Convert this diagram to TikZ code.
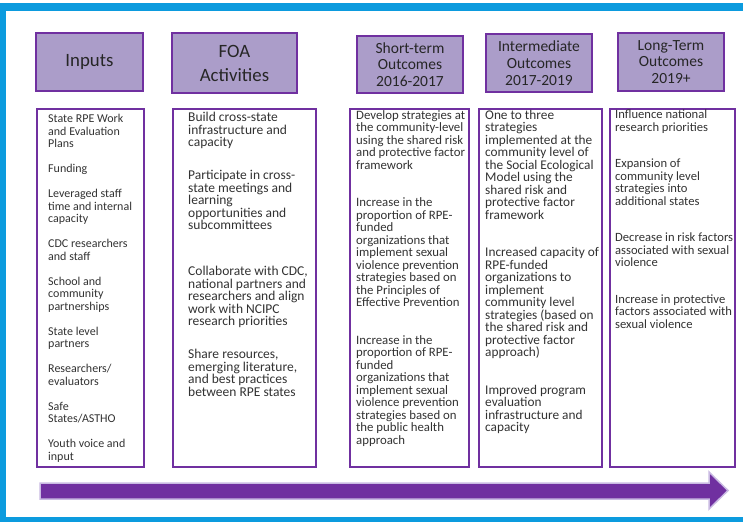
\documentclass[tikz,border=0pt]{standalone}
\usepackage{fontspec}
\setmainfont{Carlito}
\definecolor{frameblue}{RGB}{12,155,222}
\definecolor{rpepurple}{RGB}{112,48,160}
\definecolor{rpelilac}{RGB}{171,157,201}
\definecolor{arrowedge}{RGB}{201,186,226}
\definecolor{bodytext}{RGB}{50,50,50}

\begin{document}
\begin{tikzpicture}[x=1pt, y=1pt,
    head/.style={draw=rpepurple, line width=2.4pt, fill=rpelilac, minimum width=106pt, minimum height=58pt, align=center, text=black!85, inner sep=0pt},
    panel/.style={draw=rpepurple, line width=2pt, minimum height=358pt, anchor=north west, inner sep=0pt},
    items/.style={anchor=north west, align=left, inner sep=0pt, text=bodytext, font=\fontsize{#1}{12.5}\selectfont}
]
    \useasboundingbox (0,0) rectangle (743,-522);
    \fill[frameblue] (0,-3) rectangle (743,-11);
    \fill[frameblue] (0,-3) rectangle (6,-522);
    \fill[frameblue] (0,-517) rectangle (743,-522);

    \node[head, minimum width=107pt, font=\fontsize{18.8}{24}\selectfont] (hInputs) at (89.5,-62) {Inputs};
    \node[head, minimum width=125pt, minimum height=60pt, font=\fontsize{18.8}{24}\selectfont] (hFoa) at (234.5,-63) {FOA\\Activities};
    \node[head, minimum height=57pt, font=\fontsize{15.5}{16.7}\selectfont] (hShort) at (410,-64.5) {Short-term\\Outcomes\\2016-2017};
    \node[head, font=\fontsize{15.5}{16.7}\selectfont] (hInter) at (539,-63) {Intermediate\\Outcomes\\2017-2019};
    \node[head, font=\fontsize{15.5}{16.7}\selectfont] (hLong) at (671,-62) {Long-Term\\Outcomes\\2019+};

    \node[panel, minimum width=107pt] (pInputs) at (36,-108) {};
    \node[panel, minimum width=143pt] (pFoa) at (172,-108) {};
    \node[panel, minimum width=119pt] (pShort) at (349,-108) {};
    \node[panel, minimum width=123pt] (pInter) at (478,-108) {};
    \node[panel, minimum width=125pt] (pLong) at (609,-108) {};

    \node[items=12] (tInputs) at ([shift={(12,-6)}]pInputs.north west) {State RPE Work\\and Evaluation\\Plans\\[12.5pt]
        Funding\\[12.5pt]
        Leveraged staff\\time and internal\\capacity\\[12.5pt]
        CDC researchers\\and staff\\[12.5pt]
        School and\\community\\partnerships\\[12.5pt]
        State level\\partners\\[12.5pt]
        Researchers/\\evaluators\\[12.5pt]
        Safe\\States/ASTHO\\[12.5pt]
        Youth voice and\\input};
    \node[items=13.5] (tFoa) at ([shift={(16,-4)}]pFoa.north west) {Build cross-state\\infrastructure and\\capacity\\[20.5pt]
        Participate in cross-\\state meetings and\\learning\\opportunities and\\subcommittees\\[33.5pt]
        Collaborate with CDC,\\national partners and\\researchers and align\\work with NCIPC\\research priorities\\[20.5pt]
        Share resources,\\emerging literature,\\and best practices\\between RPE states};
    \node[items=12.8] (tShort) at ([shift={(7,-2)}]pShort.north west) {Develop strategies at\\the community-level\\using the shared risk\\and protective factor\\framework\\[25pt]
        Increase in the\\proportion of RPE-\\funded\\organizations that\\implement sexual\\violence prevention\\strategies based on\\the Principles of\\Effective Prevention\\[25pt]
        Increase in the\\proportion of RPE-\\funded\\organizations that\\implement sexual\\violence prevention\\strategies based on\\the public health\\approach};
    \node[items=13.3] (tInter) at ([shift={(7,-2)}]pInter.north west) {One to three\\strategies\\implemented at the\\community level of\\the Social Ecological\\Model using the\\shared risk and\\protective factor\\framework\\[25pt]
        Increased capacity of\\RPE-funded\\organizations to\\implement\\community level\\strategies (based on\\the shared risk and\\protective factor\\approach)\\[25pt]
        Improved program\\evaluation\\infrastructure and\\capacity};
    \node[items=12.6] (tLong) at ([shift={(6,-2)}]pLong.north west) {Influence national\\research priorities\\[24pt]
        Expansion of\\community level\\strategies into\\additional states\\[24pt]
        Decrease in risk factors\\associated with sexual\\violence\\[24pt]
        Increase in protective\\factors associated with\\sexual violence};

    \filldraw[fill=rpepurple, draw=arrowedge, line width=1.5pt, line join=miter] (40,-483) -- (709,-483) -- (709,-472) -- (728,-490.5) -- (709,-509) -- (709,-499) -- (40,-499) -- cycle;
\end{tikzpicture}
\end{document}
